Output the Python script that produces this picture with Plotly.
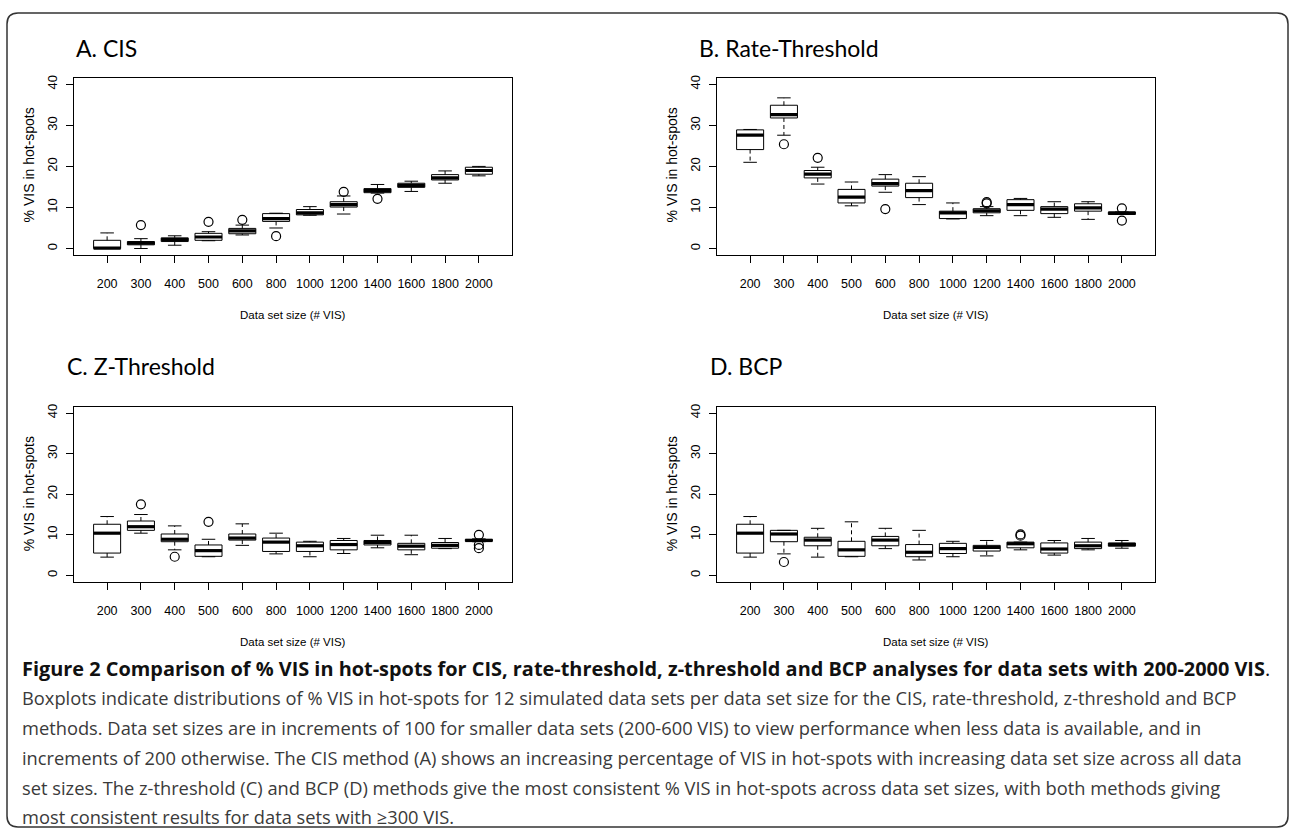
import plotly.graph_objects as go

# ---------------- data ----------------
categories = ["200", "300", "400", "500", "600", "800", "1000", "1200", "1400", "1600", "1800", "2000"]

cis_lo  = [0.0, 0.0, 0.8, 1.9, 3.3, 5.0, 8.1, 8.4, 13.5, 13.9, 15.9, 17.7]
cis_q1  = [0.0, 0.9, 1.7, 2.0, 3.6, 6.6, 8.2, 10.1, 13.6, 14.9, 16.7, 18.1]
cis_med = [0.1, 1.3, 2.2, 2.8, 4.3, 7.3, 8.7, 10.7, 14.1, 15.4, 17.2, 19.0]
cis_q3  = [2.0, 1.7, 2.6, 3.7, 4.9, 8.5, 9.5, 11.4, 14.6, 15.9, 18.0, 19.8]
cis_hi  = [3.8, 2.4, 3.1, 4.1, 5.7, 8.6, 10.2, 12.8, 15.6, 16.4, 18.9, 20.0]
cis_out = [[], [5.7], [], [6.5], [7.0], [3.0], [], [13.8], [12.1], [], [], []]

rate_lo  = [21.0, 27.6, 15.7, 10.4, 13.7, 10.7, 7.2, 8.0, 8.0, 7.6, 7.1, 8.3]
rate_q1  = [24.1, 31.8, 17.2, 11.1, 15.2, 12.4, 7.3, 8.7, 9.3, 8.5, 9.1, 8.3]
rate_med = [27.6, 32.6, 18.1, 12.5, 15.8, 14.1, 8.7, 9.2, 10.7, 9.6, 9.9, 8.6]
rate_q3  = [28.9, 34.9, 19.0, 14.4, 16.9, 15.9, 9.1, 9.7, 11.9, 10.2, 10.9, 8.9]
rate_hi  = [29.0, 36.7, 19.8, 16.2, 18.0, 17.5, 11.1, 10.2, 12.2, 11.4, 11.4, 8.9]
rate_out = [[], [25.4], [22.1], [], [9.6], [], [], [11.0, 11.3], [], [], [], [9.8, 6.8]]

z_lo  = [4.5, 10.4, 6.3, 4.6, 7.4, 5.3, 4.6, 5.4, 6.8, 5.1, 6.6, 8.3]
z_q1  = [5.5, 11.1, 8.3, 4.7, 8.7, 5.9, 5.9, 6.3, 7.5, 6.3, 6.7, 8.4]
z_med = [10.4, 12.0, 8.9, 6.1, 9.2, 8.2, 7.3, 7.6, 8.1, 7.2, 7.4, 8.6]
z_q3  = [12.6, 13.4, 10.2, 7.5, 10.2, 9.2, 8.2, 8.6, 8.6, 7.9, 8.1, 8.9]
z_hi  = [14.5, 15.0, 12.2, 8.9, 12.7, 10.4, 8.4, 9.1, 9.9, 9.9, 9.1, 9.0]
z_out = [[], [17.5], [4.6], [13.2], [], [], [], [], [], [], [], [10.0, 7.5, 6.7]]

bcp_lo  = [4.5, 5.3, 4.5, 4.6, 6.6, 3.8, 4.6, 4.8, 6.3, 5.0, 6.3, 6.7]
bcp_q1  = [5.5, 8.3, 7.3, 4.7, 7.3, 4.6, 5.4, 6.0, 6.8, 5.5, 6.6, 7.2]
bcp_med = [10.4, 10.2, 8.7, 6.3, 8.7, 5.7, 6.6, 6.9, 7.8, 6.5, 7.3, 7.6]
bcp_q3  = [12.6, 11.1, 9.4, 8.4, 9.6, 7.6, 7.9, 7.4, 8.2, 8.0, 8.2, 8.0]
bcp_hi  = [14.5, 11.1, 11.6, 13.2, 11.6, 11.1, 8.4, 8.6, 8.2, 8.6, 9.1, 8.6]
bcp_out = [[], [3.3], [], [], [], [], [], [], [10.1, 9.8], [], [], []]

panel_titles = ["A. CIS", "B. Rate-Threshold", "C. Z-Threshold", "D. BCP"]
y_ticks = [0, 10, 20, 30, 40]
x_title = "Data set size (# VIS)"
y_title = "% VIS in hot-spots"

caption_bold = "Figure 2 Comparison of % VIS in hot-spots for CIS, rate-threshold, z-threshold and BCP analyses for data sets with 200-2000 VIS"
caption_lines = [
    "Boxplots indicate distributions of % VIS in hot-spots for 12 simulated data sets per data set size for the CIS, rate-threshold, z-threshold and BCP",
    "methods. Data set sizes are in increments of 100 for smaller data sets (200-600 VIS) to view performance when less data is available, and in",
    "increments of 200 otherwise. The CIS method (A) shows an increasing percentage of VIS in hot-spots with increasing data set size across all data",
    "set sizes. The z-threshold (C) and BCP (D) methods give the most consistent % VIS in hot-spots across data set sizes, with both methods giving",
    "most consistent results for data sets with \u2265300 VIS.",
]

# ---------------- layout helpers ----------------
W, H = 1290, 830
def fx(px):
    return px / W
def fy(py):
    return 1 - py / H

AX_FONT = "Liberation Sans Narrow, Arial Narrow, Liberation Sans, Arial, sans-serif"
LAB_FONT = "Liberation Sans, Arial, sans-serif"
TITLE_FONT = "Lato, Open Sans, sans-serif"
CAP_FONT = "Open Sans, Lato, sans-serif"

panels = [
    dict(stats=(cis_lo, cis_q1, cis_med, cis_q3, cis_hi, cis_out), box=(74, 512, 75, 253), title_xy=(74, 45)),
    dict(stats=(rate_lo, rate_q1, rate_med, rate_q3, rate_hi, rate_out), box=(717, 1155, 75, 253), title_xy=(697, 45)),
    dict(stats=(z_lo, z_q1, z_med, z_q3, z_hi, z_out), box=(74, 512, 405, 581), title_xy=(65, 364)),
    dict(stats=(bcp_lo, bcp_q1, bcp_med, bcp_q3, bcp_hi, bcp_out), box=(717, 1155, 405, 581), title_xy=(708, 364)),
]

pos = list(range(1, len(categories) + 1))
BOX_HALF = 0.4
CAP_HALF = 0.2

fig = go.Figure()
layout = dict(
    width=W, height=H, margin=dict(l=0, r=0, t=0, b=0),
    paper_bgcolor="white", plot_bgcolor="white", showlegend=False,
    annotations=[], shapes=[],
)

for i, p in enumerate(panels):
    n = "" if i == 0 else str(i + 1)
    xa, ya = "x" + n, "y" + n
    lo, q1, med, q3, hi, out = p["stats"]
    x0, x1, y0, y1 = p["box"]

    # boxes
    fig.add_trace(go.Box(
        x=pos, q1=q1, median=med, q3=q3, lowerfence=q1, upperfence=q3,
        width=2 * BOX_HALF, whiskerwidth=0, fillcolor="white",
        line=dict(color="black", width=1), boxpoints=False,
        xaxis=xa, yaxis=ya, hoverinfo="skip",
    ))
    # whiskers (dashed)
    wx, wy = [], []
    for k in range(len(pos)):
        wx += [pos[k], pos[k], None, pos[k], pos[k], None]
        wy += [q3[k], hi[k], None, q1[k], lo[k], None]
    fig.add_trace(go.Scatter(x=wx, y=wy, mode="lines", xaxis=xa, yaxis=ya,
                             line=dict(color="black", width=1, dash="4px,3px"), hoverinfo="skip"))
    # staples
    sx, sy = [], []
    for k in range(len(pos)):
        sx += [pos[k] - CAP_HALF, pos[k] + CAP_HALF, None, pos[k] - CAP_HALF, pos[k] + CAP_HALF, None]
        sy += [hi[k], hi[k], None, lo[k], lo[k], None]
    fig.add_trace(go.Scatter(x=sx, y=sy, mode="lines", xaxis=xa, yaxis=ya,
                             line=dict(color="black", width=1), hoverinfo="skip"))
    # thick medians
    mx, my = [], []
    for k in range(len(pos)):
        mx += [pos[k] - BOX_HALF, pos[k] + BOX_HALF, None]
        my += [med[k], med[k], None]
    fig.add_trace(go.Scatter(x=mx, y=my, mode="lines", xaxis=xa, yaxis=ya,
                             line=dict(color="black", width=3.2), hoverinfo="skip"))
    # outliers
    ox, oy = [], []
    for k in range(len(pos)):
        for v in out[k]:
            ox.append(pos[k])
            oy.append(v)
    fig.add_trace(go.Scatter(x=ox, y=oy, mode="markers", xaxis=xa, yaxis=ya,
                             marker=dict(symbol="circle-open", size=9, color="black", line=dict(width=1.2)),
                             hoverinfo="skip"))

    axis_common = dict(showline=True, mirror=True, linecolor="black", linewidth=1,
                       showgrid=False, zeroline=False, ticks="outside", ticklen=7,
                       tickcolor="black", tickwidth=1)
    layout["xaxis" + n] = dict(
        axis_common, domain=[fx(x0), fx(x1)], anchor=ya, range=[0.02, len(pos) + 0.98],
        tickmode="array", tickvals=pos, ticktext=categories, ticklabelstandoff=10,
        tickfont=dict(family=AX_FONT, size=12.5, color="black"),
    )
    layout["yaxis" + n] = dict(
        axis_common, domain=[fy(y1), fy(y0)], anchor=xa, range=[-1.6, 41.6],
        tickmode="array", tickvals=y_ticks, tickangle=-90, ticklabelstandoff=4,
        tickfont=dict(family=LAB_FONT, size=13, color="black"),
    )

    # panel title
    tx, ty = p["title_xy"]
    layout["annotations"].append(dict(
        text=panel_titles[i], x=fx(tx), y=fy(ty), xref="paper", yref="paper",
        xanchor="left", yanchor="middle", showarrow=False,
        font=dict(family=TITLE_FONT, size=23, color="black"),
    ))
    # x title
    layout["annotations"].append(dict(
        text=x_title, x=fx((x0 + x1) / 2), y=fy(y1 + 60), xref="paper", yref="paper",
        xanchor="center", yanchor="middle", showarrow=False,
        font=dict(family=AX_FONT, size=11.5, color="black"),
    ))
    # y title
    layout["annotations"].append(dict(
        text=y_title, x=fx(x0 - 45), y=fy(y0 + 88), xref="paper", yref="paper",
        xanchor="center", yanchor="middle", textangle=-90, showarrow=False,
        font=dict(family=LAB_FONT, size=14, color="black"),
    ))

# caption
cap_y = [668, 697, 727, 757, 787, 816]
layout["annotations"].append(dict(
    text="<b>" + caption_bold + "</b>.", x=fx(20), y=fy(cap_y[0]), xref="paper", yref="paper",
    xanchor="left", yanchor="middle", showarrow=False,
    font=dict(family=CAP_FONT, size=19.9, color="#111111"),
))
for j, line in enumerate(caption_lines):
    layout["annotations"].append(dict(
        text=line, x=fx(20), y=fy(cap_y[j + 1]), xref="paper", yref="paper",
        xanchor="left", yanchor="middle", showarrow=False,
        font=dict(family=CAP_FONT, size=18.3, color="#3a3a3a"),
    ))

# rounded outer frame
L, T, R, B, r = 7, 10, 1288, 827, 11
path = (f"M {fx(L + r)},{fy(T)} L {fx(R - r)},{fy(T)} Q {fx(R)},{fy(T)} {fx(R)},{fy(T + r)} "
        f"L {fx(R)},{fy(B - r)} Q {fx(R)},{fy(B)} {fx(R - r)},{fy(B)} "
        f"L {fx(L + r)},{fy(B)} Q {fx(L)},{fy(B)} {fx(L)},{fy(B - r)} "
        f"L {fx(L)},{fy(T + r)} Q {fx(L)},{fy(T)} {fx(L + r)},{fy(T)} Z")
layout["shapes"].append(dict(type="path", path=path, xref="paper", yref="paper",
                             line=dict(color="#333333", width=1.5), layer="below"))

fig.update_layout(**layout)
fig.write_html("out.html", config={"displayModeBar": False},
               post_script="document.body.style.margin='0';document.body.style.overflow='hidden';")
